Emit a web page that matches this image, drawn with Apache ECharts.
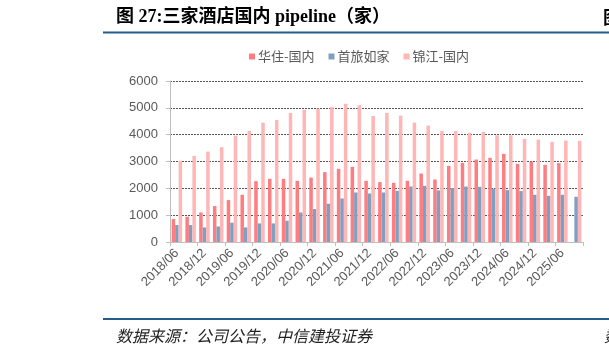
<!DOCTYPE html>
<html>
<head>
<meta charset="utf-8">
<script src="https://cdn.jsdelivr.net/npm/echarts@6/dist/echarts.min.js"></script>
<style>html,body{margin:0;padding:0;background:#fff;}#c{width:609px;height:358px;}</style>
</head>
<body>
<div id="c"></div>
<script>
var categories = ['2018/06','2018/09','2018/12','2019/03','2019/06','2019/09','2019/12','2020/03','2020/06','2020/09','2020/12','2021/03','2021/06','2021/09','2021/12','2022/03','2022/06','2022/09','2022/12','2023/03','2023/06','2023/09','2023/12','2024/03','2024/06','2024/09','2024/12','2025/03','2025/06','2025/09'];
var huazhu = [855,941,1101,1339,1562,1760,2269,2355,2355,2280,2403,2604,2727,2801,2280,2232,2206,2280,2552,2329,2838,2950,3073,3136,3285,2913,2998,2876,2939,null];
var shoulv = [632,632,543,580,718,543,692,692,792,1101,1227,1425,1622,1845,1808,1845,1908,2068,2094,1922,2009,2068,2057,1983,1934,1897,1760,1722,1760,1685];
var jinjiang = [3024,3210,3370,3534,3965,4140,4449,4549,4805,4933,4970,5033,5156,5096,4698,4810,4710,4449,4337,4140,4129,4066,4103,3980,3980,3843,3817,3731,3779,3768];
var seriesNames = ['华住-国内','首旅如家','锦江-国内'];
var yTicks = [0,1000,2000,3000,4000,5000,6000];

var chart = echarts.init(document.getElementById('c'));
var colors = ['#FF7C80','#7FA1C1','#FFB6B6'];
var barW = 3.5;
chart.setOption({
  animation: false,
  color: colors,
  graphic: [
    {type:'text', left:116, top:8, style:{text:'图 27:三家酒店国内 pipeline（家）', font:'bold 18px "Liberation Serif", "Noto Sans CJK SC"', fill:'#000'}},
    {type:'rect', shape:{x:103, y:31.5, width:506, height:2}, style:{fill:'#245C8C'}},
    {type:'text', left:603, top:8, style:{text:'图', font:'bold 18px "Noto Sans CJK SC"', fill:'#000'}},
    {type:'rect', shape:{x:103, y:318, width:506, height:2}, style:{fill:'#245C8C'}},
    {type:'text', left:116, top:328, style:{text:'数据来源：公司公告，中信建投证券', font:'italic 16px "Noto Sans CJK SC"', fill:'#222'}},
    {type:'text', left:604, top:328, style:{text:'数', font:'italic 16px "Noto Sans CJK SC"', fill:'#222'}}
  ],
  legend: {
    left: 244, top: 45,
    itemWidth: 6, itemHeight: 6, itemGap: 14,
    icon: 'rect',
    textStyle: {color:'#595959', fontSize:13, fontFamily:'"Noto Sans CJK SC"', padding:[0,0,0,-2]},
    data: seriesNames
  },
  grid: {left:170, right:26, top:81, bottom:116},
  xAxis: {
    type:'category', data: categories,
    axisLine:{lineStyle:{color:'#BFBFBF'}},
    axisTick:{show:true, lineStyle:{color:'#BFBFBF'}, length:4},
    axisLabel:{rotate:45, interval:1, color:'#595959', fontSize:13, fontFamily:'Arial, "Liberation Sans"', margin:9}
  },
  yAxis: {
    type:'value', min:0, max:6000, interval:1000,
    axisLine:{show:true, lineStyle:{color:'#BFBFBF'}},
    axisTick:{show:true, lineStyle:{color:'#BFBFBF'}, length:4},
    axisLabel:{color:'#595959', fontSize:13, fontFamily:'Arial, "Liberation Sans"', margin:12,
      formatter:function(v){return yTicks.indexOf(v)>=0 ? String(v) : '';}},
    splitLine:{lineStyle:{color:'#555', type:[2,1], width:1}}
  },
  series: [
    {name:seriesNames[0], type:'bar', data:huazhu, barWidth:barW, barGap:'0%'},
    {name:seriesNames[1], type:'bar', data:shoulv, barWidth:barW, barGap:'0%'},
    {name:seriesNames[2], type:'bar', data:jinjiang, barWidth:barW, barGap:'0%'}
  ]
});
</script>
</body>
</html>
